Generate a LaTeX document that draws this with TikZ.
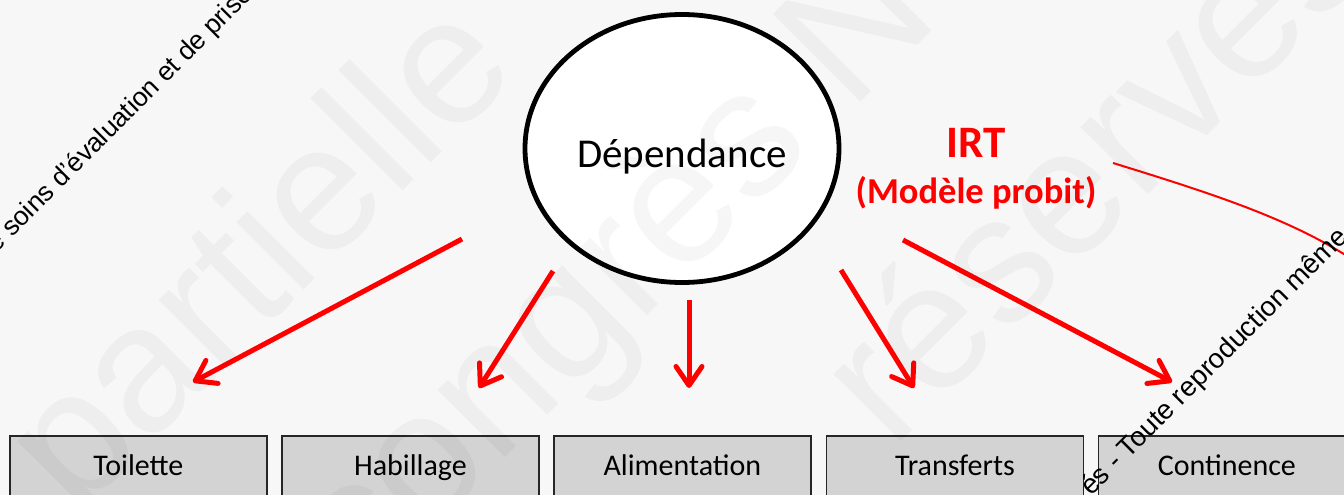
\documentclass[tikz,border=0pt]{standalone}
\usepackage{fontspec}
\setmainfont{Carlito}
\newfontfamily\wmfont{Liberation Sans}
\usetikzlibrary{arrows.meta,shapes.geometric}
\definecolor{bgcol}{RGB}{247,247,247}
\definecolor{boxfill}{RGB}{211,211,211}
\definecolor{irtred}{RGB}{255,0,0}
\begin{document}
\begin{tikzpicture}[x=1pt,y=-1pt,
  redarrow/.style={draw=irtred, line width=5pt, -{Straight Barb[length=19pt,width=26pt,round]}},
  itembox/.style={draw=black!85, line width=1.8pt, fill=boxfill, minimum width=257pt, minimum height=66pt,
    anchor=north west, inner sep=0pt, text height=20pt, text depth=6pt, font=\fontsize{30}{36}\selectfont},
  wmsmall/.style={font=\wmfont\fontsize{26.5}{30}\selectfont, rotate=45, anchor=base west, inner sep=0pt, text=black},
  wmbig/.style={font=\wmfont\fontsize{180}{200}\selectfont, rotate=45, anchor=base west, inner sep=0pt, text=black, text opacity=0.035}
]
\useasboundingbox (0,0) rectangle (1344,495);
\clip (0,0) rectangle (1344,495);
\fill[bgcol] (0,0) rectangle (1344,495);

% central ellipse
\node[draw=black, ellipse, line width=4.8pt, fill=white, minimum width=314pt, minimum height=268pt,
      inner sep=0pt, text height=37pt, text depth=0pt, font=\fontsize{41}{48}\selectfont] (dep) at (682,148.5) {Dépendance};

% IRT label
\node[font=\bfseries\fontsize{45}{50}\selectfont, text=irtred, anchor=base, inner sep=0pt] (irt) at (976,157) {IRT};
\node[font=\bfseries\fontsize{36.5}{40}\selectfont, text=irtred, anchor=base, inner sep=0pt] (probit) at (976,203) {(Modèle probit)};

% boxes
\node[itembox] (b1) at (9,435) {Toilette};
\node[itembox] (b2) at (281,435) {Habillage};
\node[itembox] (b3) at (553,435) {Alimentation};
\node[itembox] (b4) at (825.5,435) {Transferts};
\node[itembox] (b5) at (1097.5,435) {Continence};

% arrows
\coordinate (s1) at (462,239);  \coordinate (e1) at (193,382);
\coordinate (s2) at (553,271);  \coordinate (e2) at (479,388);
\coordinate (s3) at (689,300);  \coordinate (e3) at (689,388);
\coordinate (s4) at (841,270);  \coordinate (e4) at (914,388);
\coordinate (s5) at (903,240);  \coordinate (e5) at (1172,382);
\draw[redarrow] (s1) -- (e1);
\draw[redarrow] (s2) -- (e2);
\draw[redarrow] (s3) -- (e3);
\draw[redarrow] (s4) -- (e4);
\draw[redarrow] (s5) -- (e5);

% thin red curve
\coordinate (c1) at (1113,163);
\coordinate (c2) at (1365,268);
\draw[irtred, line width=2pt] (c1) .. controls (1220,196) and (1300,222) .. (c2);

% watermark
\node[wmbig] (wmA) at (76,518) {partielle};
\node[wmbig] (wmB) at (362,601) {congrès N};
\node[wmbig] (wmC) at (892,451) {réservés};
\node[wmsmall] (wm1) at (-14,264) {de soins d’évaluation et de prise en charge};
\node[wmsmall, font=\wmfont\fontsize{27.5}{30}\selectfont] (wm2) at (1091,497) {és - Toute reproduction même partielle};
\end{tikzpicture}
\end{document}
